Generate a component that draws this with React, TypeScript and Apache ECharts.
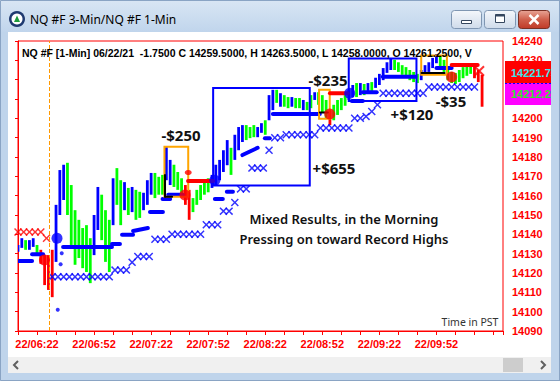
import React, { useEffect, useRef } from 'react';
import * as echarts from 'echarts';

// ---- axes ----
const START_MIN = 6 * 60 + 12; // x = 0 is 06:12 (PST)
const X_MAX = 255;
const xLabels = ['22/06:22', '22/06:52', '22/07:22', '22/07:52', '22/08:22', '22/08:52', '22/09:22', '22/09:52'];
const PRICE_MIN = 14090;
const PRICE_MAX = 14240;
const PRICE_STEP = 10;
const hiddenPriceLabels = [14210, 14220]; // covered by the last-price boxes

// ---- 2-minute price bars (minutes after 06:12) ----
const BAR_STEP = 2;
const barHigh = [
  14134.5, 14138, 14137, 14137, 14138, 14134.5, 14132, 14129.25, 14129.25, 14132,
  14155.25, 14173.25, 14176, 14177, 14165.5, 14152.5, 14147.5, 14143.25, 14144.75, 14138,
  14150, 14164.5, 14160.5, 14152.5, 14147.5, 14169, 14174.25, 14168, 14167, 14164,
  14164.5, 14163, 14162, 14161.5, 14168, 14171.75, 14171.75, 14169.75, 14170.75, 14185.25,
  14178.5, 14176, 14172.25, 14169, 14165.5, 14163, 14158.75, 14163, 14165.5, 14167,
  14169, 14170.75, 14176, 14178.5, 14183.5, 14188.75, 14184.75, 14191.5, 14195.5, 14196.5,
  14196.5, 14195.5, 14196.5, 14195.5, 14197.5, 14199, 14212, 14214.75, 14214.75, 14213,
  14212, 14211, 14211, 14210.5, 14210.5, 14209.5, 14208.5, 14212, 14213.5, 14213.5,
  14212, 14209.5, 14204.25, 14207, 14209.5, 14210.5, 14212, 14214.75, 14217.25, 14218.25,
  14218.25, 14217.75, 14218.25, 14218.75, 14221, 14223, 14226, 14229, 14230.75, 14230.25,
  14229, 14227.5, 14226.5, 14225, 14224, 14223, 14225, 14227.5, 14229, 14231.25,
  14233.25, 14232.25, 14230.25, 14226, 14224, 14223.5, 14225, 14226.5, 14227, 14228,
  14227, 14225, 14222.5,
];
const barLow = [
  14131, 14133, 14132, 14132, 14133.5, 14130, 14124.75, 14113.75, 14111.25, 14107.5,
  14125.75, 14150, 14157.75, 14150, 14134.5, 14124.25, 14127.75, 14122.5, 14120.5, 14114.75,
  14129.25, 14142.25, 14137, 14125.75, 14120.5, 14144.75, 14155.25, 14144.75, 14152.5, 14150,
  14151.5, 14147.5, 14148.5, 14152.5, 14155.25, 14160.5, 14158.75, 14160.5, 14160.5, 14168,
  14165.5, 14164.5, 14163, 14160.5, 14155.25, 14147.5, 14151.5, 14155.25, 14157.75, 14160.5,
  14161.75, 14164, 14165.5, 14168, 14172.25, 14175.75, 14170.75, 14178.5, 14183.5, 14187.75,
  14188.75, 14189.75, 14190.25, 14190.25, 14192.5, 14191.5, 14199, 14204.25, 14208, 14206,
  14206, 14205.25, 14206, 14205.25, 14205.25, 14204.25, 14204.25, 14205.25, 14209.5, 14207,
  14203.25, 14200.25, 14196.5, 14199, 14201.75, 14204.25, 14206.5, 14209.5, 14211, 14211,
  14212, 14212, 14213, 14213.5, 14215.75, 14217.25, 14219.75, 14223.5, 14225, 14225,
  14224, 14222.5, 14221.5, 14219.75, 14218.75, 14218.25, 14219.75, 14223, 14224, 14226,
  14228.5, 14226, 14224, 14219.75, 14218.25, 14217.75, 14218.75, 14220.75, 14222, 14223,
  14220.75, 14218.75, 14206,
];
// b = up (blue), g = down (green), r = in-trade warning (red)
const barColor =
  'bbgbbgrrrr' + 'bbbggggggg' + 'bbgggbggbg' + 'bggbbbgggb' + 'bgggrrgggg' +
  'gbbbbbgbbb' + 'gggbbgbbgb' + 'ggbggbggbg' + 'ggrggggbbg' + 'bgbgbbbbbg' +
  'ggggggbbbb' + 'bggggggggg' + 'rrr';

// ---- trailing stop (dots, drawn as dashes): [t0, p0, t1, p1] ----
const stopDots = [
  [0, 14126.25, 7.4, 14126.25],
  [7.4, 14129.75, 13.2, 14129.75],
  [23.7, 14133.5, 49.4, 14133.5],
  [49.4, 14135, 53.6, 14135],
  [54.7, 14139.75, 60.5, 14139.75],
  [60.5, 14141.75, 68.3, 14143.25],
  [69.4, 14151.5, 76.2, 14151.5],
  [76, 14158.25, 80, 14158.25],
  [79, 14160.5, 86.7, 14160.5],
  [103.5, 14158.25, 107.7, 14158.25],
  [109.8, 14162, 113, 14162],
  [118, 14181, 126, 14184.75],
  [129.8, 14189.75, 132.4, 14189.75],
  [134, 14202.25, 158.7, 14202.25],
  [175.5, 14209, 181.3, 14209],
  [181.3, 14213.5, 188.6, 14213.5],
  [191.8, 14221.5, 209, 14221.5],
  [220, 14226, 228, 14226],
];
const stopDotsSingle = [[23, 14130.25], [22.4, 14124.5], [20.9, 14101]];

// ---- 3-min trailing stop crosses ----
const crossBlue = [
  [18, 14118], [21, 14118], [24, 14118], [27, 14118], [30, 14118], [33, 14118], [36, 14118], [39, 14118], [42, 14118], [45, 14118], [48, 14118],
  [51, 14121.5], [54, 14121.5], [57, 14121.5],
  [60, 14125.5],
  [63, 14128.5], [66, 14128.5], [69, 14128.5],
  [72, 14137.5], [75, 14137.5], [78, 14137.5],
  [81, 14140], [84, 14140], [87, 14140], [90, 14140], [93, 14140], [96, 14140],
  [99, 14145], [102, 14145], [105, 14145],
  [108, 14152], [111, 14152],
  [114, 14156.5],
  [117, 14163.5], [120, 14163.5],
  [123, 14174.25], [126, 14174.25], [129, 14174.25],
  [132, 14183.5],
  [135, 14190], [138, 14190],
  [141, 14191.5], [144, 14191.5], [147, 14191.5], [150, 14191.5], [153, 14191.5], [156, 14191.5],
  [159, 14195], [162, 14195], [165, 14195], [168, 14195], [171, 14195], [174, 14195],
  [177, 14200], [180, 14200], [183, 14201], [186, 14203.5], [189, 14207],
  [192, 14213], [195, 14213], [198, 14213], [201, 14213], [204, 14213], [207, 14213], [210, 14213], [213, 14213],
  [216, 14216.25], [219, 14216.25], [222, 14216.25], [225, 14216.25], [228, 14216.25], [231, 14216.25], [234, 14216.25], [237, 14216.25], [240, 14216.25],
];
const crossRed = [[0, 14141.25], [3, 14141.25], [6, 14141.25], [9, 14141.25], [12, 14141.25], [15, 14138]];
const crossRedEnd = [[242.5, 14224.5]];

// ---- trades ----
const entryDots = [[20.5, 14138], [103.5, 14168], [174.4, 14213]];
const exitDots = [[13.9, 14126.75], [87.8, 14160.4], [163.9, 14202.25], [228, 14221.4]];
const exitSmall = [[89.5, 14172]];
const stopLines = [
  [89.4, 14167.6, 102.6, 14167.6],
  [164, 14213, 173.4, 14213],
  [228, 14227.6, 241.7, 14227.6],
];
const entryLines = [
  [77.3, 14170.7, 77.3, 14159.5],
  [77.3, 14159.5, 81, 14159.5],
  [158.7, 14203, 162.9, 14203],
  [212.2, 14223.5, 224.3, 14223.5],
];
const losingBoxes = [
  [77, 14185.25, 89.5, 14159.5],
  [158.3, 14214.75, 163.9, 14199.75],
  [212, 14232.5, 225.5, 14222.5],
];
const winningBoxes = [
  [102.6, 14215.75, 153.4, 14165.25],
  [173.9, 14231, 209.5, 14209],
];
const sessionMarkerT = 16.5;

const tradeLabels = ['-$250', '-$235', '+$655', '+$120', '-$35'];
const headline = ['Mixed Results, in the Morning', 'Pressing on toward Record Highs'];
const lastPrices = ['14221.75', '14212.25'];

const BAR_COLORS: Record<string, string> = { b: '#0000ff', g: '#00ff00', r: '#ff0000' };
const CROSS =
  'path://M0,1.3 L1.3,0 L5,3.7 L8.7,0 L10,1.3 L6.3,5 L10,8.7 L8.7,10 L5,6.3 L1.3,10 L0,8.7 L3.7,5 Z';

const pad = (n: number) => (n < 10 ? '0' + n : '' + n);

function segSeries(name: string, data: number[][], color: string, width: number, z: number) {
  return {
    type: 'custom',
    name,
    z,
    clip: true,
    data,
    encode: { x: [0, 2], y: [1, 3] },
    renderItem: (_p: any, api: any) => {
      const a = api.coord([api.value(0), api.value(1)]);
      const b = api.coord([api.value(2), api.value(3)]);
      return {
        type: 'line',
        shape: { x1: a[0], y1: a[1], x2: b[0], y2: b[1] },
        style: { stroke: color, lineWidth: width, lineCap: 'round', fill: null },
      };
    },
  };
}

function boxSeries(name: string, data: number[][], color: string, z: number) {
  return {
    type: 'custom',
    name,
    z,
    clip: true,
    data,
    encode: { x: [0, 2], y: [1, 3] },
    renderItem: (_p: any, api: any) => {
      const a = api.coord([api.value(0), api.value(1)]);
      const b = api.coord([api.value(2), api.value(3)]);
      return {
        type: 'rect',
        shape: { x: a[0], y: a[1], width: b[0] - a[0], height: b[1] - a[1] },
        style: { fill: 'none', stroke: color, lineWidth: 2 },
      };
    },
  };
}

function txt(x: number, y: number, text: string, o: any = {}) {
  return {
    type: 'text',
    x,
    y,
    z: o.z ?? 60,
    style: {
      text,
      fill: o.fill ?? '#111111',
      fontSize: o.size ?? 15,
      fontWeight: o.weight ?? 'bold',
      fontFamily: o.family ?? '"Noto Sans", sans-serif',
      textAlign: o.align ?? 'center',
      textVerticalAlign: 'middle',
      verticalAlign: 'middle',
    },
  };
}

export default function App() {
  const ref = useRef<HTMLDivElement>(null);
  useEffect(() => {
    document.body.style.margin = '0';
    const chart = echarts.init(ref.current!, null, { renderer: 'svg' });
    const frame = '#bfd4eb';
    const btnGrad = new echarts.graphic.LinearGradient(0, 0, 0, 1, [
      { offset: 0, color: '#f4f7fb' },
      { offset: 1, color: '#cfdbea' },
    ]);
    const closeGrad = new echarts.graphic.LinearGradient(0, 0, 0, 1, [
      { offset: 0, color: '#e8a596' },
      { offset: 0.5, color: '#d0604c' },
      { offset: 1, color: '#c03a28' },
    ]);
    const titleGrad = new echarts.graphic.LinearGradient(0, 0, 0, 1, [
      { offset: 0, color: '#d9e6f4' },
      { offset: 1, color: '#c0d5ec' },
    ]);

    const graphic: any[] = [
      { type: 'rect', z: -20, shape: { x: 0, y: 0, width: 560, height: 381 }, style: { fill: frame } },
      { type: 'rect', z: -19, shape: { x: 0, y: 0, width: 560, height: 32 }, style: { fill: titleGrad } },
      { type: 'rect', z: -18, shape: { x: 0.5, y: 0.5, width: 559, height: 380 }, style: { fill: 'none', stroke: '#8aa4c4', lineWidth: 1 } },
      { type: 'rect', z: -15, shape: { x: 8, y: 32, width: 543, height: 325 }, style: { fill: '#ffffff' } },
      { type: 'rect', z: -15, shape: { x: 8, y: 357, width: 543, height: 16 }, style: { fill: '#f0f0f0' } },
      { type: 'rect', z: -14, shape: { x: 503, y: 358, width: 20, height: 14 }, style: { fill: '#cdcdcd' } },
      { type: 'polyline', z: -14, shape: { points: [[18, 361], [14, 365], [18, 369]] }, style: { stroke: '#606060', lineWidth: 2, fill: 'none' } },
      { type: 'polyline', z: -14, shape: { points: [[541, 361], [545, 365], [541, 369]] }, style: { stroke: '#606060', lineWidth: 2, fill: 'none' } },
      // title icon
      { type: 'circle', z: 10, shape: { cx: 17, cy: 19, r: 8 }, style: { fill: '#1f3a70' } },
      { type: 'circle', z: 11, shape: { cx: 17, cy: 19, r: 5.5 }, style: { fill: '#ffffff' } },
      { type: 'polygon', z: 12, shape: { points: [[14, 22], [17, 15.5], [20, 22]] }, style: { fill: '#1e9b3c' } },
      txt(30, 19, 'NQ #F 3-Min/NQ #F 1-Min', { size: 12, weight: 'normal', align: 'left', fill: '#000000' }),
      // window buttons
      { type: 'rect', z: 10, shape: { x: 451.5, y: 10.5, width: 30, height: 18, r: 3 }, style: { fill: btnGrad, stroke: '#7f96b2', lineWidth: 1 } },
      { type: 'rect', z: 11, shape: { x: 461.5, y: 20.5, width: 10, height: 3 }, style: { fill: '#ffffff', stroke: '#34465e', lineWidth: 1 } },
      { type: 'rect', z: 10, shape: { x: 484.5, y: 10.5, width: 31, height: 18, r: 3 }, style: { fill: btnGrad, stroke: '#7f96b2', lineWidth: 1 } },
      { type: 'rect', z: 11, shape: { x: 495.5, y: 14.5, width: 9, height: 8 }, style: { fill: '#ffffff', stroke: '#34465e', lineWidth: 1 } },
      { type: 'rect', z: 12, shape: { x: 495.5, y: 14.5, width: 9, height: 2 }, style: { fill: '#34465e' } },
      { type: 'rect', z: 10, shape: { x: 518.5, y: 10.5, width: 31, height: 18, r: 3 }, style: { fill: closeGrad, stroke: '#7a3024', lineWidth: 1 } },
      { type: 'line', z: 11, shape: { x1: 529.5, y1: 15, x2: 538.5, y2: 24 }, style: { stroke: '#ffffff', lineWidth: 2.5 } },
      { type: 'line', z: 11, shape: { x1: 538.5, y1: 15, x2: 529.5, y2: 24 }, style: { stroke: '#ffffff', lineWidth: 2.5 } },
      // header
      txt(22, 52.5, 'NQ #F [1-Min] 06/22/21  -1.7500 C 14259.5000, H 14263.5000, L 14258.0000, O 14261.2500, V', {
        size: 10.5, align: 'left', family: '"Liberation Sans", Arial, sans-serif', fill: '#000000',
      }),
      // trade results
      txt(181, 135, tradeLabels[0]),
      txt(328, 80, tradeLabels[1]),
      txt(334, 167.5, tradeLabels[2]),
      txt(412, 114, tradeLabels[3]),
      txt(451, 101, tradeLabels[4]),
      txt(344, 219, headline[0], { size: 13, weight: 600 }),
      txt(344, 238.5, headline[1], { size: 13, weight: 600 }),
      txt(470, 321.5, 'Time in PST', { size: 10.5, weight: 'normal', fill: '#333333' }),
      // last price boxes
      { type: 'rect', z: 70, shape: { x: 505, y: 61, width: 46, height: 22 }, style: { fill: '#ff0000' } },
      { type: 'rect', z: 70, shape: { x: 505, y: 83, width: 46, height: 22 }, style: { fill: '#ff00ff' } },
      { type: 'line', z: 71, shape: { x1: 505, y1: 83.5, x2: 551, y2: 83.5 }, style: { stroke: '#0000ff', lineWidth: 1, lineDash: [2, 2] } },
      txt(511, 73, lastPrices[0], { size: 11, align: 'left', family: '"Liberation Sans", Arial, sans-serif', fill: '#40e4ee', z: 72 }),
      txt(511, 94, lastPrices[1], { size: 11, align: 'left', family: '"Liberation Sans", Arial, sans-serif', fill: '#30e030', z: 72 }),
      { type: 'rect', z: 80, shape: { x: 551, y: 32, width: 9, height: 342 }, style: { fill: frame } },
      { type: 'line', z: 81, shape: { x1: 559.5, y1: 0, x2: 559.5, y2: 381 }, style: { stroke: '#8aa4c4', lineWidth: 1 } },
    ];

    const option: any = {
      animation: false,
      backgroundColor: 'transparent',
      grid: { left: 18, right: 57, top: 41, bottom: 50, show: true, borderColor: '#ff0000', borderWidth: 1, backgroundColor: 'transparent' },
      xAxis: {
        type: 'value',
        min: 0,
        max: X_MAX,
        interval: 10,
        axisLine: { show: true, lineStyle: { color: '#ff0000' } },
        axisTick: { show: true, length: 4, lineStyle: { color: '#ff0000' } },
        splitLine: { show: false },
        axisLabel: {
          color: '#ff0000',
          fontWeight: 'bold',
          fontSize: 11,
          fontFamily: '"Liberation Sans", Arial, sans-serif',
          margin: 7,
          showMinLabel: true,
          showMaxLabel: true,
          formatter: (v: number) => {
            const m = START_MIN + Math.round(v);
            const s = '22/' + pad(Math.floor(m / 60)) + ':' + pad(m % 60);
            return xLabels.includes(s) ? s : '';
          },
        },
      },
      yAxis: {
        type: 'value',
        position: 'right',
        min: PRICE_MIN,
        max: PRICE_MAX,
        interval: PRICE_STEP,
        axisLine: { show: true, lineStyle: { color: '#ff0000' } },
        axisTick: { show: true, inside: true, length: 3, lineStyle: { color: '#ff0000' } },
        splitLine: { show: false },
        axisLabel: {
          color: '#ff0000',
          fontWeight: 'bold',
          fontSize: 11,
          fontFamily: '"Liberation Sans", Arial, sans-serif',
          margin: 9,
          showMinLabel: true,
          showMaxLabel: true,
          formatter: (v: number) => (hiddenPriceLabels.includes(Math.round(v)) ? '' : String(Math.round(v))),
        },
      },
      graphic,
      series: [
        {
          type: 'custom',
          name: 'bars',
          z: 3,
          clip: true,
          data: barHigh.map((h, i) => [i * BAR_STEP, barLow[i], h]),
          encode: { x: 0, y: [1, 2] },
          renderItem: (params: any, api: any) => {
            const t = api.value(0);
            const top = api.coord([t, api.value(2)]);
            const bot = api.coord([t, api.value(1)]);
            const w = 2.8;
            return {
              type: 'rect',
              shape: { x: top[0] - w / 2, y: top[1], width: w, height: Math.max(bot[1] - top[1], 1.5) },
              style: { fill: BAR_COLORS[barColor[params.dataIndex]] },
            };
          },
          markLine: {
            silent: true,
            symbol: ['none', 'none'],
            label: { show: false },
            lineStyle: { color: '#ff9900', type: 'dashed', width: 1 },
            data: [{ xAxis: sessionMarkerT }],
          },
        },
        segSeries('stop dots', stopDots, '#0000ff', 4, 4),
        {
          type: 'scatter', name: 'stop dots single', z: 4, symbol: 'circle', symbolSize: 4,
          itemStyle: { color: '#0000ff' }, data: stopDotsSingle,
        },
        {
          type: 'scatter', name: 'cross blue', z: 4, symbol: CROSS, symbolSize: 8,
          itemStyle: { color: '#0000ff' }, data: crossBlue,
        },
        {
          type: 'scatter', name: 'cross red', z: 4, symbol: CROSS, symbolSize: 8,
          itemStyle: { color: '#ff0000' }, data: crossRed,
        },
        {
          type: 'scatter', name: 'cross red end', z: 6, symbol: CROSS, symbolSize: 11,
          itemStyle: { color: '#ff0000' }, data: crossRedEnd,
        },
        boxSeries('losing', losingBoxes, '#ffa500', 5),
        boxSeries('winning', winningBoxes, '#0000ff', 5),
        segSeries('stop lines', stopLines, '#ff0000', 4, 6),
        segSeries('entry lines', entryLines, '#000000', 2, 6),
        {
          type: 'scatter', name: 'entries', z: 7, symbol: 'circle', symbolSize: 11,
          itemStyle: { color: '#0000ff' }, data: entryDots,
        },
        {
          type: 'scatter', name: 'exits', z: 7, symbol: 'circle', symbolSize: 11,
          itemStyle: { color: '#ff0000' }, data: exitDots,
        },
        {
          type: 'scatter', name: 'exit small', z: 7, symbol: 'circle', symbolSize: [7, 5],
          itemStyle: { color: '#ff0000' }, data: exitSmall,
        },
      ],
    };
    chart.setOption(option);
    return () => chart.dispose();
  }, []);
  return <div ref={ref} style={{ width: 560, height: 381 }} />;
}
